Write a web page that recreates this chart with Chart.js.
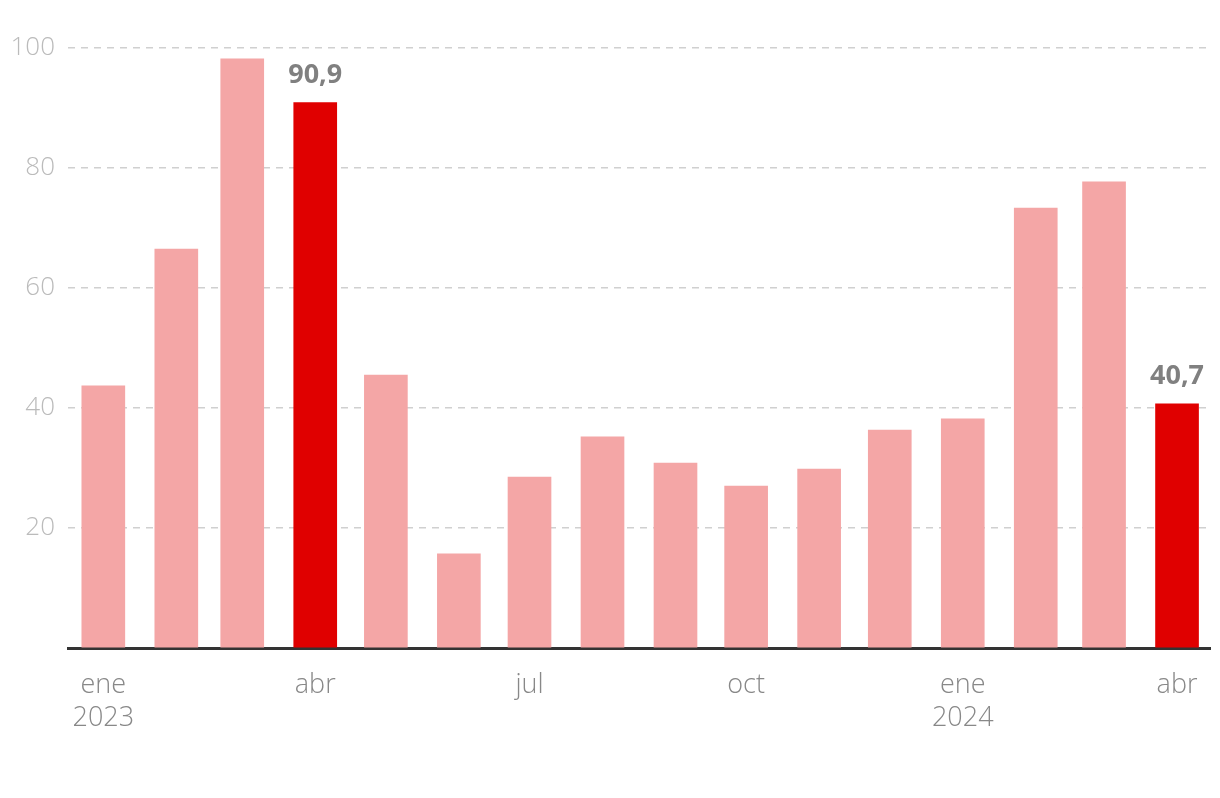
<html>
<head>
<script src="https://cdn.jsdelivr.net/npm/chart.js@4.4.1/dist/chart.umd.min.js"></script>
<style>
  html, body { margin: 0; padding: 0; background: #fff; }
  #wrap { width: 1220px; height: 798px; }
</style>
</head>
<body>
<div id="wrap"><canvas id="myChart"></canvas></div>
<script>
// months shown as bars (first day of each month)
var months = ["2023-01-01","2023-02-01","2023-03-01","2023-04-01","2023-05-01","2023-06-01",
              "2023-07-01","2023-08-01","2023-09-01","2023-10-01","2023-11-01","2023-12-01",
              "2024-01-01","2024-02-01","2024-03-01","2024-04-01"];
var values = [43.7, 66.5, 98.2, 90.9, 45.5, 15.7, 28.5, 35.2, 30.8, 27.0, 29.8, 36.3, 38.2, 73.3, 77.7, 40.7];
var highlight = [false,false,false,true,false,false,false,false,false,false,false,false,false,false,false,true];
var tickMonths = ["2023-01-01","2023-04-01","2023-07-01","2023-10-01","2024-01-01","2024-04-01"];
var tickLabels = [["ene","2023"],["abr"],["jul"],["oct"],["ene","2024"],["abr"]];
var yTicks = [20, 40, 60, 80, 100];

var start = Date.UTC(2023, 0, 1);
function dayOf(s) {
  var p = s.split("-");
  return Math.round((Date.UTC(+p[0], +p[1] - 1, +p[2]) - start) / 86400000);
}
var points = months.map(function (m, i) { return { x: dayOf(m), y: values[i] }; });
var tickDays = tickMonths.map(dayOf);

var valueLabels = {
  id: "valueLabels",
  afterDatasetsDraw: function (chart) {
    var ctx = chart.ctx;
    var meta = chart.getDatasetMeta(0);
    ctx.save();
    ctx.font = "bold 27px 'Open Sans'";
    ctx.fillStyle = "#808080";
    ctx.textAlign = "center";
    ctx.textBaseline = "bottom";
    meta.data.forEach(function (bar, i) {
      if (!highlight[i]) return;
      ctx.fillText(values[i].toFixed(1).replace(".", ","), bar.x, bar.y - 14);
    });
    ctx.restore();
  }
};

var ctx = document.getElementById("myChart").getContext("2d");
var myChart = new Chart(ctx, {
  type: "bar",
  data: {
    datasets: [{
      data: points,
      backgroundColor: highlight.map(function (h) { return h ? "#e00000" : "#f4a6a6"; }),
      barThickness: 43,
      borderWidth: 0
    }]
  },
  options: {
    responsive: true,
    maintainAspectRatio: false,
    animation: false,
    layout: { padding: { top: 48, right: 10, left: 0, bottom: 0 } },
    plugins: { legend: { display: false }, tooltip: { enabled: false } },
    scales: {
      x: {
        type: "linear",
        offset: false,
        min: -15,
        max: 470,
        afterFit: function (s) { s.height = 150; },
        afterBuildTicks: function (s) {
          s.ticks = tickDays.map(function (d) { return { value: d }; });
        },
        ticks: {
          autoSkip: false,
          maxRotation: 0,
          padding: 20,
          color: "#888",
          font: { family: "'Open Sans'", size: 27, weight: 300, lineHeight: 1.25 },
          callback: function (v) {
            var i = tickDays.indexOf(v);
            return i >= 0 ? tickLabels[i] : "";
          }
        },
        grid: { display: false, drawTicks: false },
        border: { display: true, color: "#333", width: 3 }
      },
      y: {
        min: 0,
        max: 100,
        afterFit: function (s) { s.width = 68; },
        afterBuildTicks: function (s) {
          s.ticks = [{ value: 0 }].concat(yTicks.map(function (v) { return { value: v }; }));
        },
        ticks: {
          padding: 13,
          color: "#bbb",
          font: { family: "'Open Sans'", size: 26, weight: 300 },
          callback: function (v) { return v === 0 ? "" : v; }
        },
        grid: {
          drawTicks: false,
          color: function (c) { return c.tick.value === 0 ? "rgba(0,0,0,0)" : "#d0d0d0"; },
          lineWidth: 1.5
        },
        border: { display: false, dash: [7, 6] }
      }
    }
  },
  plugins: [valueLabels]
});
</script>
</body>
</html>
